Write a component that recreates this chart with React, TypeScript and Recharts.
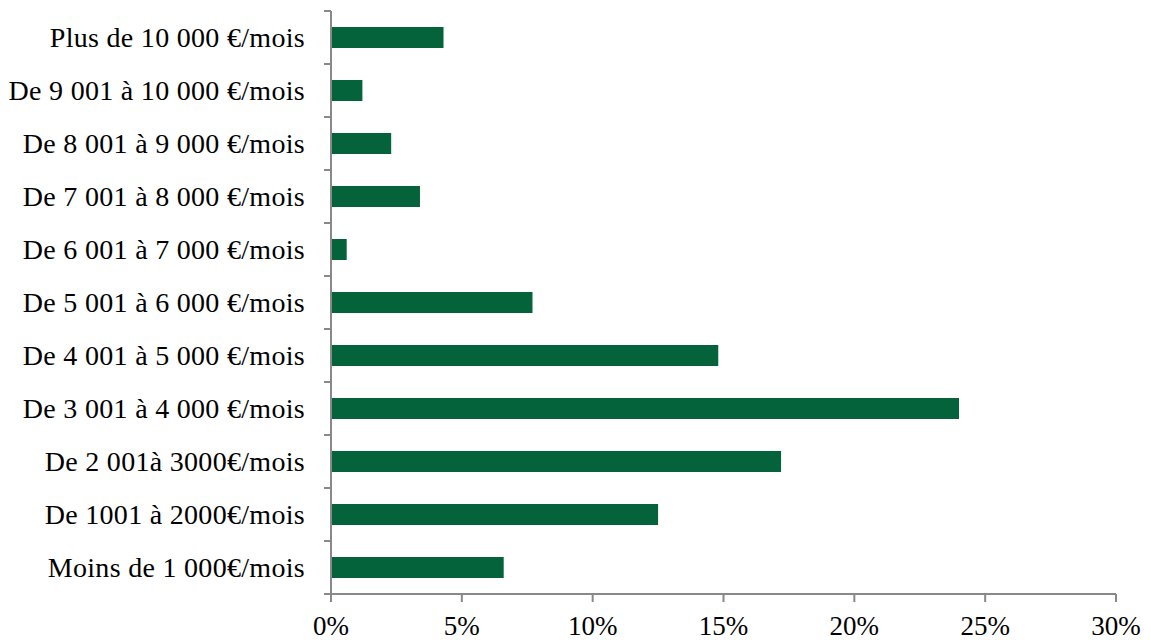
import React from "react";
import { BarChart, Bar, XAxis, YAxis } from "recharts";

const categories = [
  "Plus de 10 000 €/mois",
  "De 9 001 à 10 000 €/mois",
  "De 8 001 à 9 000 €/mois",
  "De 7 001 à 8 000 €/mois",
  "De 6 001 à 7 000 €/mois",
  "De 5 001 à 6 000 €/mois",
  "De 4 001 à 5 000 €/mois",
  "De 3 001 à 4 000 €/mois",
  "De 2 001à 3000€/mois",
  "De 1001 à 2000€/mois",
  "Moins de 1 000€/mois",
];

const values = [4.3, 1.2, 2.3, 3.4, 0.6, 7.7, 14.8, 24.0, 17.2, 12.5, 6.6];

const xTicks = [0, 5, 10, 15, 20, 25, 30];

const data = categories.map((c, i) => ({ name: c, value: values[i] }));

const font = "'Liberation Serif', 'Times New Roman', serif";
const axisColor = "#898989";
const Y_TICK_SIZE = 7;
const Y_TICK_MARGIN = 19;

function CategoryTick(props: any) {
  const { x, y, payload } = props;
  const half = payload && payload.offset ? payload.offset : 0;
  const x1 = x + Y_TICK_MARGIN;
  const x2 = x1 + Y_TICK_SIZE;
  return (
    <g>
      <line x1={x1} x2={x2} y1={y - half} y2={y - half} stroke={axisColor} strokeWidth={2} />
      <line x1={x1} x2={x2} y1={y + half} y2={y + half} stroke={axisColor} strokeWidth={2} />
      <text
        x={x}
        y={y}
        dy="0.355em"
        textAnchor="end"
        fill="#000"
        fontSize={28}
        fontFamily={font}
        letterSpacing={0.3}
      >
        {payload.value}
      </text>
    </g>
  );
}

export default function App() {
  return (
    <div style={{ position: "absolute", left: 0, top: 0, width: 1151, height: 642, background: "#fff" }}>
      <BarChart
        width={1151}
        height={642}
        data={data}
        layout="vertical"
        margin={{ top: 11, right: 35, bottom: 8, left: 0 }}
        barSize={21}
      >
        <XAxis
          type="number"
          domain={[0, 30]}
          ticks={xTicks}
          tickFormatter={(v) => `${v}%`}
          height={40}
          tickSize={8}
          tickMargin={14}
          axisLine={{ stroke: axisColor, strokeWidth: 2 }}
          tickLine={{ stroke: axisColor, strokeWidth: 2 }}
          tick={{ fill: "#000", fontSize: 27, fontFamily: font }}
          interval={0}
        />
        <YAxis
          type="category"
          dataKey="name"
          width={331}
          tickSize={Y_TICK_SIZE}
          tickMargin={Y_TICK_MARGIN}
          axisLine={{ stroke: axisColor, strokeWidth: 2 }}
          tickLine={false}
          tick={<CategoryTick />}
          interval={0}
        />
        <Bar dataKey="value" fill="#04633A" isAnimationActive={false} />
      </BarChart>
    </div>
  );
}
